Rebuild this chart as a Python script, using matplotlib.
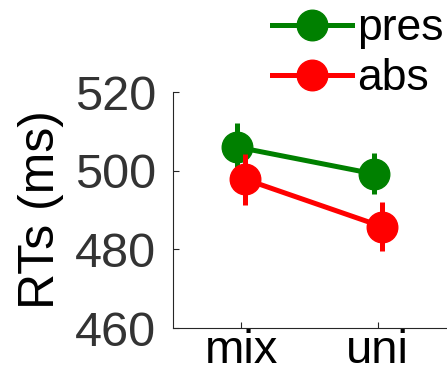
import matplotlib as mpl
mpl.use('Agg')
import matplotlib.pyplot as plt

plt.rcParams['font.family'] = ['Liberation Sans', 'DejaVu Sans']

# condition labels and group means / errors (ms)
conditions = ['mix', 'uni']
pres_rt = [506.0, 499.2]
pres_err = [6.0, 5.2]
abs_rt = [497.8, 485.8]
abs_err = [6.5, 6.3]

xpos = [1, 2]
offset = 0.03

fig = plt.figure(figsize=(4.47, 3.76), dpi=100)
ax = fig.add_axes([173/447, (376-328)/376, (446-173)/447, (328-92)/376])

ax.errorbar([x - offset for x in xpos], pres_rt, yerr=pres_err, color='#008000',
            marker='o', markersize=22, linewidth=3.6, elinewidth=3.6, capsize=0,
            label='pres', zorder=3)
ax.errorbar([x + offset for x in xpos], abs_rt, yerr=abs_err, color='#ff0000',
            marker='o', markersize=22, linewidth=3.6, elinewidth=3.6, capsize=0,
            label='abs', zorder=4)

ax.set_xlim(0.5, 2.5)
ax.set_ylim(460, 520)
ax.set_xticks(xpos)
ax.set_xticklabels(conditions)
ax.set_yticks([460, 480, 500, 520])
ax.tick_params(direction='in', length=4, width=0.8, colors='#262626', labelsize=35)
ax.tick_params(axis='x', labelcolor='black', labelsize=34, pad=1)
ax.tick_params(axis='y', labelcolor='#333333', pad=12)
ax.set_ylabel('RTs (ms)', fontsize=36, color='black', labelpad=8)

for side in ['top', 'right']:
    ax.spines[side].set_visible(False)
for side in ['left', 'bottom']:
    ax.spines[side].set_color('#262626')
    ax.spines[side].set_linewidth(0.8)

handles, labels = ax.get_legend_handles_labels()
handles = [h[0] for h in handles]
fig.legend(handles, labels, loc='upper left', bbox_to_anchor=(272/447, 0.978),
           frameon=False, fontsize=32, handlelength=1.8, handletextpad=0.12,
           labelspacing=0.2, borderaxespad=0, borderpad=0)

plt.savefig('out.png', dpi=100)
